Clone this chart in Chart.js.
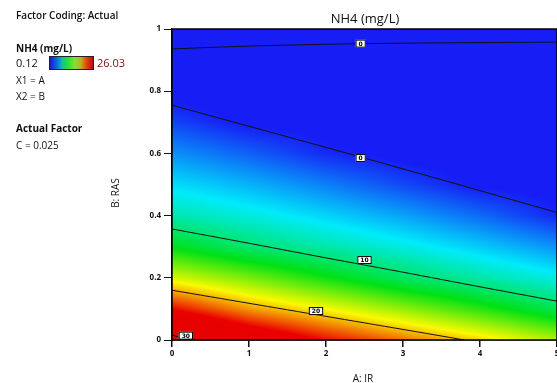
<!DOCTYPE html>
<html>
<head>
<meta charset="utf-8">
<script src="https://cdn.jsdelivr.net/npm/chart.js@4"></script>
<style>
    html, body { margin: 0; padding: 0; background: #fff; }
    #wrap { position: relative; width: 557px; height: 383px; overflow: hidden; font-family: 'Open Sans', sans-serif; color: #111; }
    #chart { position: absolute; left: 0; top: 0; }
    .txt { position: absolute; white-space: nowrap; font-size: 10px; line-height: 12px; }
    .b { font-weight: 700; }
    #cbar { position: absolute; left: 49px; top: 56px; width: 45px; height: 14px; box-sizing: border-box; border: 1px solid #222;
            background: linear-gradient(to right, #1020c0, #1060e0, #10c0a0, #30e030, #80e040, #c0b020, #e04010, #b01010); }
</style>
</head>
<body>
<div id="wrap">
    <canvas id="chart" width="557" height="383"></canvas>
    <div class="txt" style="left:16px; top:9px; font-weight:600;">Factor Coding: Actual</div>
    <div class="txt b" style="left:16px; top:42px;">NH4 (mg/L)</div>
    <div class="txt" style="left:16px; top:57px; font-size:11px;">0.12</div>
    <div id="cbar"></div>
    <div class="txt" style="left:97px; top:57px; font-size:11px; color:#7a1010;">26.03</div>
    <div class="txt" style="left:16px; top:74px;">X1 = A</div>
    <div class="txt" style="left:16px; top:90px;">X2 = B</div>
    <div class="txt b" style="left:16px; top:122px;">Actual Factor</div>
    <div class="txt" style="left:16px; top:139px;">C = 0.025</div>
    <div class="txt" style="left:300px; top:11px; width:130px; text-align:center; font-size:13px; line-height:15px;">NH4 (mg/L)</div>
    <div class="txt" style="left:313px; top:372px; width:100px; text-align:center;">A: IR</div>
    <div class="txt" style="left:85px; top:187px; width:60px; text-align:center; transform:rotate(-90deg);">B: RAS</div>
</div>
<script>
// grid of NH4 values (rows = RAS, columns = IR)
const IR_VALUES = [0, 1, 2, 3, 4, 5];
const RAS_VALUES = [0, 0.1, 0.2, 0.3, 0.4, 0.5, 0.6, 0.7, 0.8, 0.9, 1.0];
const NH4_GRID = [
    [31.0, 27.0, 24.0, 21.8, 19.6, 17.1],
    [24.1, 20.9, 18.7, 16.4, 14.0, 11.4],
    [18.0, 15.8, 13.4, 11.0,  9.1,  7.4],
    [12.9, 10.6,  9.0,  7.5,  5.8,  3.9],
    [ 8.9,  7.6,  6.1,  4.5,  2.6,  0.4],
    [ 6.4,  5.0,  3.3,  1.5, -0.2, -0.5],
    [ 3.9,  2.3,  0.5, -0.4, -0.8, -1.0],
    [ 1.4, -0.2, -0.6, -1.0, -1.3, -1.5],
    [-0.5, -1.0, -1.3, -1.6, -1.9, -2.0],
    [-1.5, -1.8, -2.0, -2.2, -2.4, -2.5],
    [-2.0, -2.3, -2.5, -2.6, -2.8, -3.0]
];
const NH4_MIN = 0.12;
const NH4_MAX = 26.03;

// contour lines
const CONTOUR_30 = [{x: 0, y: 0.016}, {x: 0.22, y: 0}];
const CONTOUR_20 = [{x: 0, y: 0.16}, {x: 1, y: 0.118}, {x: 2, y: 0.076}, {x: 3, y: 0.034}, {x: 3.8, y: 0}];
const CONTOUR_10 = [{x: 0, y: 0.357}, {x: 1, y: 0.311}, {x: 2, y: 0.264}, {x: 3, y: 0.218}, {x: 4, y: 0.171}, {x: 5, y: 0.125}];
const CONTOUR_0 = [{x: 0, y: 0.755}, {x: 2.5, y: 0.585}, {x: 5, y: 0.41}];
const CONTOUR_TOP = [{x: 0, y: 0.936}, {x: 1, y: 0.945}, {x: 2.5, y: 0.953}, {x: 5, y: 0.958}];

const CONTOUR_LABELS = [
    {x: 2.45, y: 0.953, text: '0'},
    {x: 2.45, y: 0.585, text: '0'},
    {x: 2.5, y: 0.257, text: '10'},
    {x: 1.87, y: 0.093, text: '20'},
    {x: 0.18, y: 0.014, text: '30'}
];

const COLOR_STOPS = [
    [0.00, [22, 30, 245]],
    [0.26, [0, 235, 250]],
    [0.50, [0, 225, 20]],
    [0.72, [250, 250, 0]],
    [0.93, [235, 0, 0]],
    [1.00, [230, 0, 0]]
];

function valueAt(a, b) {
    let i = Math.min(IR_VALUES.length - 2, Math.max(0, Math.floor(a)));
    let j = Math.min(RAS_VALUES.length - 2, Math.max(0, Math.floor(b * 10)));
    const tx = Math.min(1, Math.max(0, (a - IR_VALUES[i]) / (IR_VALUES[i + 1] - IR_VALUES[i])));
    const ty = Math.min(1, Math.max(0, (b - RAS_VALUES[j]) / (RAS_VALUES[j + 1] - RAS_VALUES[j])));
    const v00 = NH4_GRID[j][i], v10 = NH4_GRID[j][i + 1];
    const v01 = NH4_GRID[j + 1][i], v11 = NH4_GRID[j + 1][i + 1];
    return (v00 * (1 - tx) + v10 * tx) * (1 - ty) + (v01 * (1 - tx) + v11 * tx) * ty;
}

function colorFor(v) {
    const t = Math.min(1, Math.max(0, (v - NH4_MIN) / (NH4_MAX - NH4_MIN)));
    for (let k = 0; k < COLOR_STOPS.length - 1; k++) {
        const [t0, c0] = COLOR_STOPS[k];
        const [t1, c1] = COLOR_STOPS[k + 1];
        if (t <= t1) {
            const f = (t - t0) / (t1 - t0);
            return [0, 1, 2].map(n => Math.round(c0[n] + (c1[n] - c0[n]) * f));
        }
    }
    return COLOR_STOPS[COLOR_STOPS.length - 1][1];
}

const fieldPlugin = {
    id: 'field',
    beforeDatasetsDraw(chart) {
        const {ctx, chartArea, scales} = chart;
        const w = Math.round(chartArea.right - chartArea.left);
        const h = Math.round(chartArea.bottom - chartArea.top);
        const img = ctx.createImageData(w, h);
        for (let py = 0; py < h; py++) {
            const b = scales.y.getValueForPixel(chartArea.top + py + 0.5);
            for (let px = 0; px < w; px++) {
                const a = scales.x.getValueForPixel(chartArea.left + px + 0.5);
                const c = colorFor(valueAt(a, b));
                const idx = (py * w + px) * 4;
                img.data[idx] = c[0];
                img.data[idx + 1] = c[1];
                img.data[idx + 2] = c[2];
                img.data[idx + 3] = 255;
            }
        }
        ctx.putImageData(img, Math.round(chartArea.left), Math.round(chartArea.top));
    },
    afterDatasetsDraw(chart) {
        const {ctx, chartArea, scales} = chart;
        ctx.save();
        ctx.font = 'bold 6px "DejaVu Sans"';
        ctx.textAlign = 'center';
        ctx.textBaseline = 'middle';
        CONTOUR_LABELS.forEach(l => {
            const px = scales.x.getPixelForValue(l.x);
            const py = scales.y.getPixelForValue(l.y);
            const tw = ctx.measureText(l.text).width + 6;
            ctx.fillStyle = '#fff';
            ctx.fillRect(px - tw / 2, py - 4, tw, 8);
            ctx.strokeStyle = '#000';
            ctx.lineWidth = 1;
            ctx.strokeRect(px - tw / 2 + 0.5, py - 3.5, tw - 1, 7);
            ctx.fillStyle = '#000';
            ctx.fillText(l.text, px, py + 0.5);
        });
        ctx.strokeStyle = '#000';
        ctx.lineWidth = 1.5;
        ctx.strokeRect(chartArea.left, chartArea.top, chartArea.right - chartArea.left, chartArea.bottom - chartArea.top);
        ctx.restore();
    }
};

function lineSet(points) {
    return {
        data: points,
        showLine: true,
        borderColor: '#111',
        borderWidth: 1,
        pointRadius: 0,
        fill: false,
        tension: 0.3
    };
}

new Chart(document.getElementById('chart'), {
    type: 'scatter',
    data: {
        datasets: [CONTOUR_30, CONTOUR_20, CONTOUR_10, CONTOUR_0, CONTOUR_TOP].map(lineSet)
    },
    options: {
        responsive: false,
        animation: false,
        layout: { padding: { left: 0, right: -4, top: 29, bottom: 0 } },
        plugins: { legend: { display: false }, tooltip: { enabled: false } },
        scales: {
            x: {
                type: 'linear',
                min: 0, max: 5,
                afterFit: s => { s.height = 43; s.paddingRight = 0; },
                ticks: { stepSize: 1, color: '#111', padding: 2, font: { size: 8, weight: 'bold', family: 'Open Sans' } },
                grid: { drawOnChartArea: false, tickLength: 7, color: '#111', lineWidth: 1.5 },
                border: { color: '#111', width: 1.5 }
            },
            y: {
                type: 'linear',
                min: 0, max: 1,
                afterFit: s => { s.width = 172; },
                ticks: { stepSize: 0.2, color: '#111', padding: 3, font: { size: 8, weight: 'bold', family: 'Open Sans' },
                         callback: v => String(Math.round(v * 10) / 10) },
                grid: { drawOnChartArea: false, tickLength: 8, color: '#111', lineWidth: 1 },
                border: { color: '#111', width: 1.5 }
            }
        }
    },
    plugins: [fieldPlugin]
});
</script>
</body>
</html>
